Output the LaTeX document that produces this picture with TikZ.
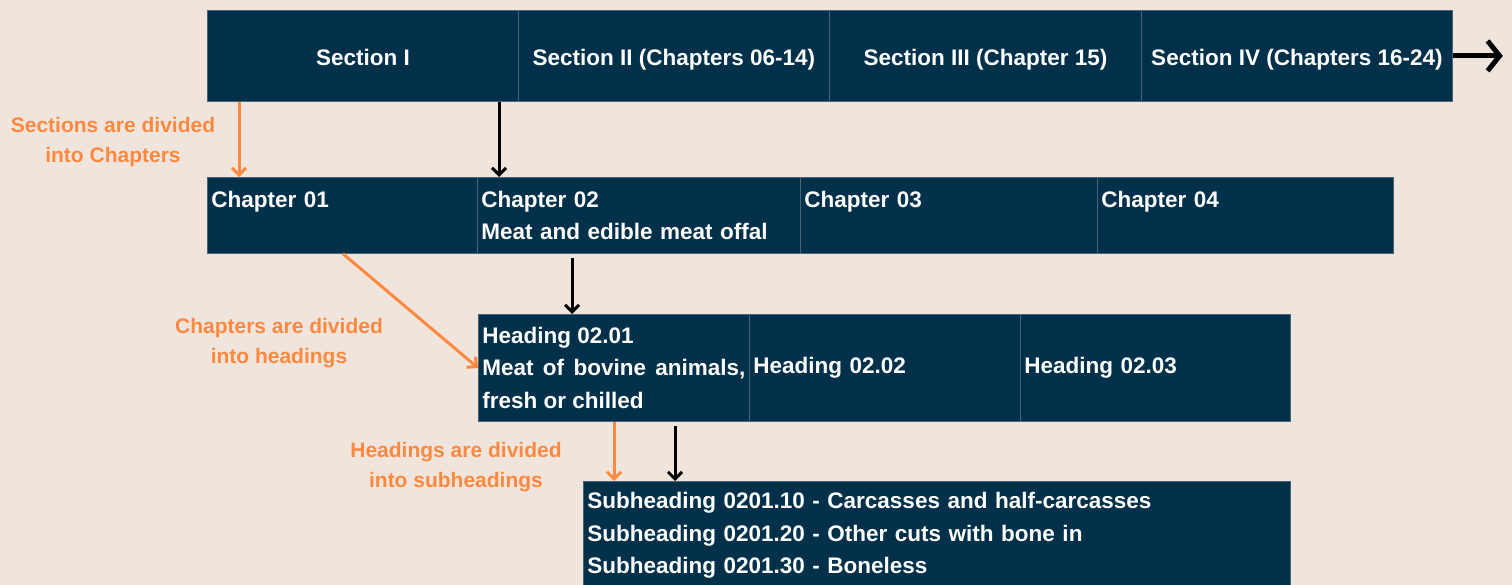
\documentclass[tikz,border=0pt]{standalone}
\usepackage{fontspec}
\setmainfont{Liberation Sans}
\usetikzlibrary{arrows.meta,positioning}
\definecolor{paper}{HTML}{EFE5DC}
\definecolor{navy}{HTML}{01304A}
\definecolor{seam}{HTML}{4A6474}
\definecolor{hint}{HTML}{FF8940}
\tikzset{
  box/.style={anchor=north west, fill=navy, draw=seam, line width=0.8pt,
    text=white, inner xsep=4pt, inner ysep=0pt,
    font=\bfseries\fontsize{22.5}{32.5}\selectfont},
  cell/.style={box, align=left},
  sectioncell/.style={box, minimum width=311, minimum height=91,
    text height=19pt, text depth=0pt},
  hint/.style={text=hint, align=center, inner sep=0pt,
    font=\bfseries\fontsize{21}{30}\selectfont},
  link/.style={-{Straight Barb[length=7pt,width=14pt]}, line width=3pt},
  hintlink/.style={link, draw=hint},
}
\begin{document}
\begin{tikzpicture}[x=1pt,y=-1pt]
  \fill[paper] (0,0) rectangle (1512,585);
  \useasboundingbox (0,0) rectangle (1512,585);
  % sections
  \draw
    (207,10) node[sectioncell] (s1) {Section I}
    (518,10) node[sectioncell] (s2) {Section II (Chapters 06-14)}
    (829,10) node[sectioncell, minimum width=312] (s3) {Section III (Chapter 15)}
    (1141,10) node[sectioncell] (s4) {Section IV (Chapters 16-24)};
  % chapters
  \draw
    (207,177) node[cell, text width=262, minimum height=76] (c1) {Chapter 01\\\mbox{}}
    (477,177) node[cell, text width=315, minimum height=76] (c2) {Chapter 02\\Meat and edible meat offal}
    (800,177) node[cell, text width=289, minimum height=76] (c3) {Chapter 03\\\mbox{}}
    (1097,177) node[cell, text width=288, minimum height=76] (c4) {Chapter 04\\\mbox{}};
  % headings
  \draw
    (478,314) node[cell, align=justify, text width=263, minimum height=107] (h1) {Heading 02.01\\Meat of bovine animals, fresh or chilled}
    (749,314) node[cell, text width=263, minimum height=107] (h2) {Heading 02.02}
    (1020,314) node[cell, text width=262, minimum height=107] (h3) {Heading 02.03};
  % subheadings
  \draw
    (583,481) node[cell, text width=699, minimum height=108] (sub) {Subheading 0201.10 - Carcasses and half-carcasses\\Subheading 0201.20 - Other cuts with bone in\\Subheading 0201.30 - Boneless};
  % notes
  \draw
    (113,142) node[hint] (n1) {Sections are divided\\into Chapters}
    (279,343) node[hint] (n2) {Chapters are divided\\into headings}
    (456,467) node[hint] (n3) {Headings are divided\\into subheadings};
  \coordinate[right=50pt of s4.east] (more);
  \draw[-{Straight Barb[length=12pt,width=30pt]}, line width=5pt] (s4.east) -- (more);
  \begin{scope}[link]
    \draw ([xshift=-19pt]s2.south west) -- ([xshift=22pt]c2.north west);
    \draw ([xshift=95pt,yshift=-4pt]c2.south west) -- ([xshift=94pt]h1.north west);
    \draw ([xshift=197pt,yshift=-4pt]h1.south west) -- ([xshift=92pt]sub.north west);
  \end{scope}
  \begin{scope}[hintlink]
    \draw ([xshift=32pt]s1.south west) -- ([xshift=32pt]c1.north west);
    \draw ([xshift=136pt]c1.south west) -- (h1.west);
    \draw ([xshift=136pt]h1.south west) -- ([xshift=31pt]sub.north west);
  \end{scope}
\end{tikzpicture}
\end{document}
